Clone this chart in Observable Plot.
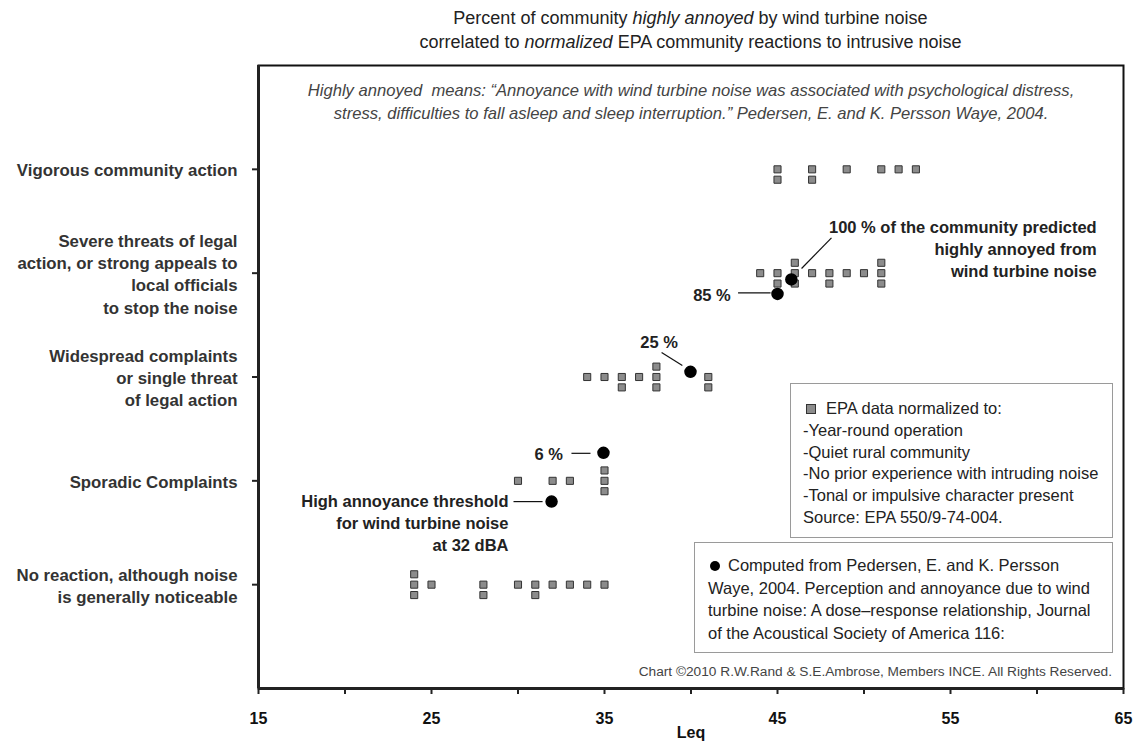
<!DOCTYPE html>
<html><head><meta charset="utf-8">
<script src="https://cdn.jsdelivr.net/npm/d3@7"></script>
<script src="https://cdn.jsdelivr.net/npm/@observablehq/plot@0.6"></script>
<style>
body{margin:0;background:#fff;font-family:"Liberation Sans",Arial,sans-serif;}
#wrap{position:relative;width:1142px;height:745px;overflow:hidden;background:#fff;}
#title{position:absolute;left:258px;width:865px;top:6px;text-align:center;font-size:18px;line-height:24px;color:#222;}
#chart{position:absolute;left:0;top:58px;}
.box{position:absolute;background:#fff;border:1px solid #9a9a9a;font-size:16.5px;line-height:21.8px;color:#222;box-sizing:border-box;}
#box1{left:790px;top:383px;width:323px;height:155px;padding:14px 0 0 12px;}
#box2{left:694px;top:542px;width:419px;height:111px;padding:11px 0 0 13px;line-height:22.5px;}
.sq{display:inline-block;width:8px;height:8px;background:#8c8c8c;border:1px solid #333;margin:0 10px 1px 3px;vertical-align:middle;}
.dt{display:inline-block;width:10px;height:10px;border-radius:50%;background:#000;margin:0 8px 2px 2px;vertical-align:middle;}
#copy{position:absolute;right:30px;top:664px;font-size:13.7px;color:#444;}
</style></head><body>
<div id="wrap">
 <div id="title">Percent of community <i>highly annoyed</i> by wind turbine noise<br>correlated to <i>normalized</i> EPA community reactions to intrusive noise</div>
 <div id="chart"></div>
 <div class="box" id="box1"><span class="sq"></span>EPA data normalized to:<br>-Year-round operation<br>-Quiet rural community<br>-No prior experience with intruding noise<br>-Tonal or impulsive character present<br>Source: EPA 550/9-74-004.</div>
 <div class="box" id="box2"><span class="dt"></span>Computed from Pedersen, E. and K. Persson<br>Waye, 2004. Perception and annoyance due to wind<br>turbine noise: A dose–response relationship, Journal<br>of the Acoustical Society of America 116:</div>
 <div id="copy">Chart ©2010 R.W.Rand &amp; S.E.Ambrose, Members INCE. All Rights Reserved.</div>
</div>
<script>
// Community reaction levels (y categories)
const levels = [1, 2, 3, 4, 5];
const levelLabels = [
  "No reaction, although noise\nis generally noticeable",
  "Sporadic Complaints",
  "Widespread complaints\nor single threat\nof legal action",
  "Severe threats of legal\naction, or strong appeals to\nlocal officials\nto stop the noise",
  "Vigorous community action"
];
// x ticks (Leq)
const xTicks = [15, 20, 25, 30, 35, 40, 45, 50, 55, 60, 65];
const xTickLabels = ["15", "", "25", "", "35", "", "45", "", "55", "", "65"];

// EPA normalized data (squares): Leq and reaction level (stacked)
const epaLeq = [
  24, 24, 24, 25, 28, 28, 30, 31, 31, 32, 33, 34, 35,
  30, 32, 33, 35, 35, 35,
  34, 35, 36, 36, 37, 38, 38, 38, 41, 41,
  44, 45, 45, 46, 46, 46, 47, 48, 48, 49, 50, 51, 51, 51,
  45, 45, 47, 47, 49, 51, 52, 53
];
const epaLevel = [
  1.1, 1, 0.9, 1, 1, 0.9, 1, 1, 0.9, 1, 1, 1, 1,
  2, 2, 2, 2.1, 2, 1.9,
  3, 3, 3, 2.9, 3, 3.1, 3, 2.9, 3, 2.9,
  4, 4, 3.9, 4.1, 4, 3.9, 4, 4, 3.9, 4, 4, 4.1, 4, 3.9,
  5, 4.9, 5, 4.9, 5, 5, 5, 5
];

// Computed from Pedersen & Persson Waye 2004 (circles)
const compLeq = [31.94, 34.94, 39.97, 45, 45.8];
const compLevel = [1.80, 2.27, 3.05, 3.80, 3.94];

// Annotations
const annoText = [
  "High annoyance threshold\nfor wind turbine noise\nat 32 dBA",
  "6 %",
  "25 %",
  "85 %",
  "100 % of the community predicted\nhighly annoyed from\nwind turbine noise"
];
const annoX = [29.45, 32.6, 38.16, 42.3, 63.45];
const annoY = [1.60, 2.265, 3.345, 3.80, 4.24];
const annoAnchor = ["end", "end", "middle", "end", "end"];
const leadX1 = [29.74, 33.09, 38.3, 42.72, 46.39];
const leadY1 = [1.80, 2.265, 3.236, 3.81, 4.045];
const leadX2 = [31.42, 34.19, 39.5, 44.6, 48.12];
const leadY2 = [1.80, 2.265, 3.11, 3.81, 4.34];

const noteText = "Highly annoyed  means: “Annoyance with wind turbine noise was associated with psychological distress,\nstress, difficulties to fall asleep and sleep interruption.” Pedersen, E. and K. Persson Waye, 2004.";

const epa = epaLeq.map((x, i) => ({x, y: epaLevel[i]}));
const comp = compLeq.map((x, i) => ({x, y: compLevel[i]}));
const anno = annoText.map((t, i) => ({t, x: annoX[i], y: annoY[i], a: annoAnchor[i]}));
const leads = leadX1.map((x1, i) => ({x1, y1: leadY1[i], x2: leadX2[i], y2: leadY2[i]}));

const annoStyle = {x: "x", y: "y", text: "t", fontWeight: "bold", fontSize: 16.5, lineHeight: 1.33, fill: "#222"};

const font = "'Liberation Sans', Arial, sans-serif";
const chart = Plot.plot({
  width: 1142,
  height: 687,
  marginLeft: 258,
  marginRight: 19,
  marginTop: 7,
  marginBottom: 57,
  x: {domain: [15, 65]},
  y: {domain: [0, 6]},
  style: {fontFamily: font, background: "white", color: "#111"},
  marks: [
    Plot.frame({stroke: "#111", strokeWidth: 2}),
    Plot.ruleX([15], {stroke: "#222", strokeWidth: 3}),
    Plot.ruleY([0], {stroke: "#222", strokeWidth: 3}),
    Plot.axisX({ticks: xTicks, tickSize: 6, tickPadding: 18, tickFormat: (d) => xTickLabels[xTicks.indexOf(d)], fontSize: 16, fontWeight: "bold", stroke: "#222", strokeWidth: 2, label: null}),
    Plot.axisY({ticks: levels, tickSize: 6, tickFormat: () => "", stroke: "#222", strokeWidth: 2, label: null}),
    Plot.text(levels, {y: (d) => d, frameAnchor: "left", text: (d, i) => levelLabels[i], textAnchor: "end", dx: -21, lineHeight: 1.32, fontWeight: "bold", fontSize: 16.8, fill: "#333"}),
    Plot.text(["Leq"], {frameAnchor: "bottom", dy: 49, text: (d) => d, fontWeight: "bold", fontSize: 16, fill: "#111"}),
    Plot.text([noteText], {x: () => 40, y: () => 5.668, text: (d) => d, fontStyle: "italic", fontSize: 16.6, lineHeight: 1.4, fill: "#444"}),
    Plot.dot(epa, {x: "x", y: "y", symbol: "square", r: 4, fill: "#8c8c8c", stroke: "#333", strokeWidth: 1}),
    Plot.link(leads, {x1: "x1", y1: "y1", x2: "x2", y2: "y2", stroke: "#111", strokeWidth: 1.2}),
    Plot.dot(comp, {x: "x", y: "y", r: 5.5, fill: "#000", stroke: "#000"}),
    Plot.text(anno.filter((d) => d.a === "end"), {...annoStyle, textAnchor: "end"}),
    Plot.text(anno.filter((d) => d.a === "middle"), {...annoStyle, textAnchor: "middle"})
  ]
});
document.getElementById("chart").appendChild(chart);
</script>
</body></html>
